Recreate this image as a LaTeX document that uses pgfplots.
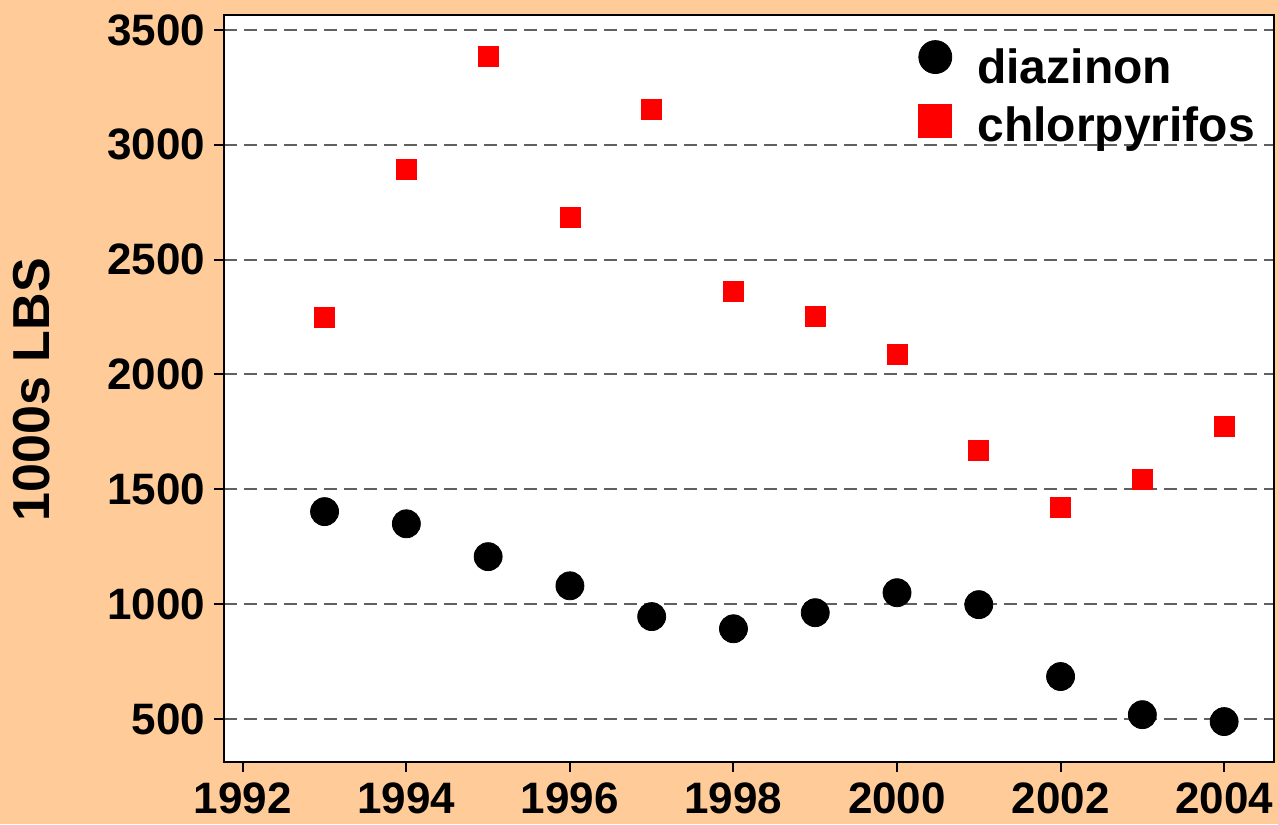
\documentclass[border=0pt]{standalone}
\usepackage{pgfplots}
\pgfplotsset{compat=1.18}
\usepackage{fontspec}
\setmainfont{Liberation Sans}
\definecolor{peach}{HTML}{FFCC99}
\definecolor{gridgray}{HTML}{606060}
\begin{document}
\begin{tikzpicture}
\fill[peach] (0,0) rectangle (639pt,412pt);
\path[use as bounding box] (0,0) rectangle (639pt,412pt);
\begin{axis}[
  at={(112pt,31pt)}, anchor=south west,
  scale only axis, width=525pt, height=373.5pt,
  axis background/.style={fill=white},
  axis line style={black, line width=1pt},
  xmin=1991.77, xmax=2004.61,
  ymin=313, ymax=3565,
  xtick={1992,1994,...,2004},
  ytick={500,1000,...,3500},
  xtick pos=bottom, ytick pos=left,
  tick align=outside,
  major tick length=5pt,
  tick style={black, line width=1pt},
  ymajorgrids,
  major grid style={gridgray, line width=1pt, dash pattern=on 6.5pt off 3.5pt},
  /pgf/number format/assume math mode=true,
  /pgf/number format/1000 sep={},
  tick label style={font=\fontsize{22}{26}\selectfont\bfseries},
  xticklabel style={yshift=-2pt},
  yticklabel style={xshift=-1pt},
  ylabel={1000s LBS},
  ylabel style={font=\fontsize{26}{30}\selectfont\bfseries, anchor=center},
  every axis y label/.append style={at={(-96.25pt,186.25pt)}},
  legend style={at={(0.982,0.979)}, anchor=north east, draw=none, fill=none,
    font=\fontsize{24}{28}\selectfont\bfseries, row sep=-2pt, inner sep=0pt,
    nodes={inner sep=0pt, text height=17pt, text depth=5pt}},
  legend cell align=left,
]
\addplot[only marks, mark=*, mark size=7pt, color=black,
  legend image code/.code={\path[draw=none, fill=none] (-8.25pt,-6pt) (21pt,20pt);
    \draw[mark size=8.25pt] plot coordinates {(0pt,7pt)};}] coordinates {
(1993,1403) (1994,1350) (1995,1207) (1996,1080) (1997,946) (1998,893)
(1999,963) (2000,1050) (2001,998) (2002,685) (2003,519) (2004,489)};
\addlegendentry{diazinon}
\addplot[only marks, mark=square*, mark size=5pt, color=red,
  legend image code/.code={\path[draw=none, fill=none] (-8.25pt,-6pt) (21pt,20pt);
    \draw[mark size=8.25pt] plot coordinates {(0pt,4pt)};}] coordinates {
(1993,2247) (1994,2891) (1995,3383) (1996,2682) (1997,3152) (1998,2360)
(1999,2255) (2000,2086) (2001,1668) (2002,1420) (2003,1542) (2004,1772)};
\addlegendentry{chlorpyrifos}
\end{axis}
\end{tikzpicture}
\end{document}
